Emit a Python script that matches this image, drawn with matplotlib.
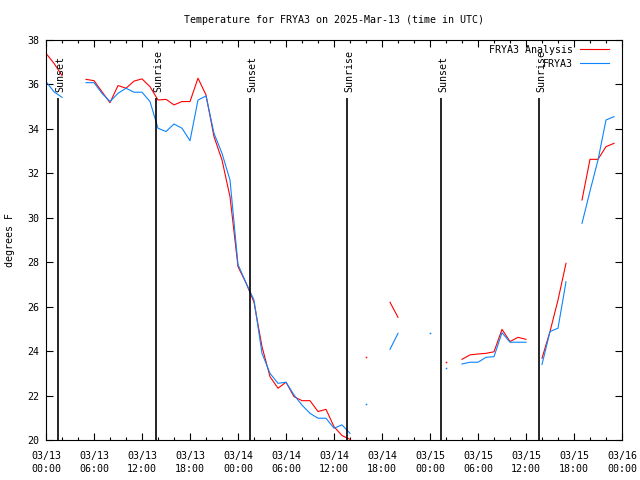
import numpy as np
import matplotlib
matplotlib.use("Agg")
import matplotlib.pyplot as plt
import matplotlib.transforms as mtransforms
from datetime import datetime, timedelta
import matplotlib.dates as mdates

nan = np.nan
start = datetime(2025, 3, 13, 0, 0)
hours = list(range(72))

analysis = [37.4, 36.95, 36.4, nan, nan, 36.23, 36.17, 35.67, 35.18, 35.95,
            35.83, 36.15, 36.25, 35.9, 35.3, 35.33, 35.08, 35.23, 35.23, 36.28,
            35.53, 33.65, 32.6, 30.95, 27.8, 27.07, 26.2, 24.2, 22.85, 22.33,
            22.6, 21.95, 21.77, 21.77, 21.28, 21.38, 20.6, 20.2, 20.03, nan,
            23.72, nan, nan, 26.2, 25.52, nan, nan, nan, nan, nan,
            23.5, nan, 23.63, 23.83, 23.87, 23.9, 23.97, 24.98, 24.43, 24.62,
            24.53, nan, 23.68, 24.88, 26.3, 27.95, nan, 30.8, 32.63, 32.63,
            33.2, 33.35]

obs = [36.13, 35.67, 35.42, nan, nan, 36.08, 36.08, 35.6, 35.23, 35.6,
       35.83, 35.65, 35.65, 35.23, 34.03, 33.88, 34.22, 34.03, 33.47, 35.3,
       35.48, 33.8, 32.9, 31.7, 27.9, 27.07, 26.3, 23.9, 23.0, 22.55,
       22.6, 22.03, 21.57, 21.2, 20.98, 20.98, 20.53, 20.68, 20.3, nan,
       21.6, nan, nan, 24.08, 24.8, nan, nan, nan, 24.8, nan,
       23.23, nan, 23.42, 23.5, 23.5, 23.72, 23.75, 24.83, 24.4, 24.4,
       24.4, nan, 23.4, 24.88, 25.03, 27.12, nan, 29.75, 31.2, 32.6,
       34.4, 34.55]

events = ["Sunset", "Sunrise", "Sunset", "Sunrise", "Sunset", "Sunrise"]
event_hours = [1.53, 13.75, 25.53, 37.67, 49.4, 61.67]

title = "Temperature for FRYA3 on 2025-Mar-13 (time in UTC)"
ylabel = "degrees F"
series_names = ["FRYA3 Analysis", "FRYA3"]
series_colors = ["#ff0000", "#0a84ff"]

FONT = "DejaVu Sans Mono"
FS = 7.2
plt.rcParams["font.family"] = FONT

times = [start + timedelta(hours=h) for h in hours]
ev_times = [start + timedelta(hours=h) for h in event_hours]

fig = plt.figure(figsize=(6.4, 4.8), dpi=100)
ax = fig.add_axes([46/640, 1-440/480, 576/640, 400/480])

xnum = mdates.date2num(times)
for vals, name, col in zip([analysis, obs], series_names, series_colors):
    v = np.array(vals, dtype=float)
    ax.plot(xnum, v, color=col, lw=0.8, label=name)
    ok = ~np.isnan(v)
    prev = np.r_[False, ok[:-1]]
    nxt = np.r_[ok[1:], False]
    iso = ok & ~prev & ~nxt
    ax.plot(xnum[iso], v[iso], linestyle="none", marker="s", markersize=1.1,
            color=col, markeredgewidth=0)

ax.set_ylim(20, 38)
x0 = mdates.date2num(start)
x1 = mdates.date2num(start + timedelta(hours=72))
ax.set_xlim(x0, x1)

line_top = (440 - 98) / 400
trans = mtransforms.blended_transform_factory(ax.transData, ax.transAxes)
for name, t in zip(events, ev_times):
    xt = mdates.date2num(t)
    ax.plot([xt, xt], [0, line_top], color="black", lw=1.2, transform=trans,
            solid_capstyle="butt")
    off = mtransforms.offset_copy(trans, fig=fig, x=2.5, y=0, units="dots")
    ax.text(xt, (440 - 92) / 400, name, rotation=90, ha="center", va="bottom",
            transform=off, fontsize=FS, family=FONT)

major = [start + timedelta(hours=6 * i) for i in range(13)]
minor = [start + timedelta(hours=2 * i) for i in range(37)]
ax.set_xticks(mdates.date2num(major))
ax.set_xticks(mdates.date2num(minor), minor=True)
ax.set_xticklabels([d.strftime("%m/%d\n%H:%M") for d in major], fontsize=FS,
                   linespacing=1.3)
ax.set_yticks(np.arange(20, 39, 2))
ax.set_yticklabels([str(v) for v in range(20, 39, 2)], fontsize=FS)
ax.tick_params(axis="both", which="major", direction="in", length=5, width=0.8,
               top=True, right=True, pad=5, colors="black")
ax.tick_params(axis="x", which="minor", direction="in", length=2.5, width=0.8,
               top=True, bottom=True)
ax.tick_params(axis="x", which="major", pad=8)
for s in ax.spines.values():
    s.set_linewidth(0.8)
    s.set_color("black")

fig.text(10/640, 1 - 240/480, ylabel, rotation=90, ha="center", va="center",
         fontsize=FS)
fig.text(334/640, 1 - 20/480, title, ha="center", va="center", fontsize=FS)

leg = ax.legend(loc="upper right", bbox_to_anchor=((609-46)/576, (440-45)/400),
                frameon=False, markerfirst=False, fontsize=FS,
                handlelength=2.9, handletextpad=0.7, labelspacing=0.4,
                borderpad=0, borderaxespad=0)

fig.savefig("out.png", dpi=100)
